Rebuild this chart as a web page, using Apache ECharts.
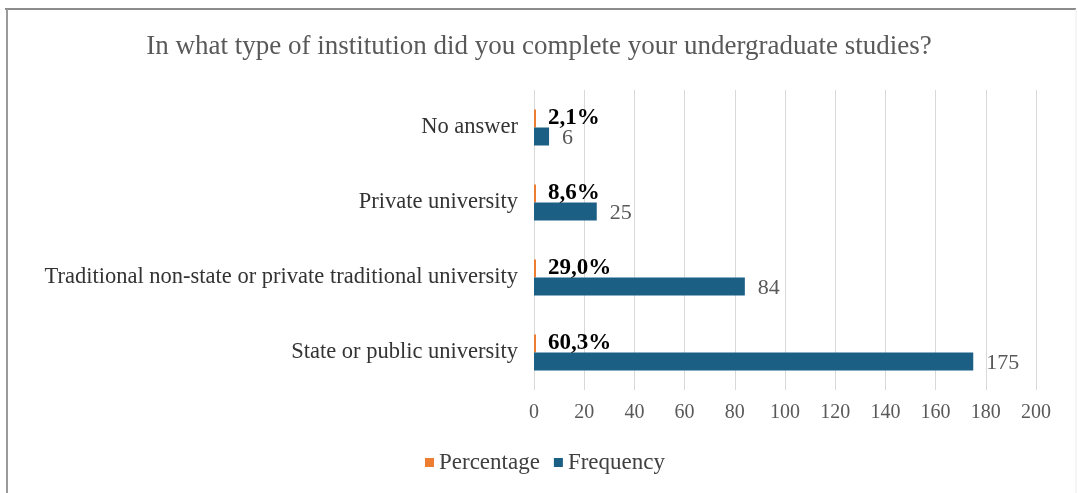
<!DOCTYPE html>
<html>
<head>
<meta charset="utf-8">
<script src="https://cdn.jsdelivr.net/npm/echarts@6/dist/echarts.min.js"></script>
<style>
  html, body { margin: 0; padding: 0; background: #fff; }
  #chart { width: 1078px; height: 493px; }
</style>
</head>
<body>
<div id="chart"></div>
<script>
// Survey answers, listed top to bottom
const categories = [
  'No answer',
  'Private university',
  'Traditional non-state or private traditional university',
  'State or public university'
];
const frequency = [6, 25, 84, 175];
const percentage = [2.1, 8.6, 29.0, 60.3];   // percent of respondents
const xTicks = { min: 0, max: 200, interval: 20 };

const serif = '"Liberation Serif", "DejaVu Serif", serif';
const fmtPct = v => v.toFixed(1).replace('.', ',') + '%';

const chart = echarts.init(document.getElementById('chart'));
chart.setOption({
  animation: false,
  backgroundColor: '#ffffff',
  title: {
    text: 'In what type of institution did you complete your undergraduate studies?',
    left: 'center',
    top: 28,
    textStyle: { fontFamily: serif, fontSize: 27, fontWeight: 'normal', color: '#595959' }
  },
  legend: {
    data: ['Percentage', 'Frequency'],
    bottom: 14,
    left: 420,
    icon: 'rect',
    itemWidth: 9,
    itemHeight: 9,
    itemGap: 14,
    textStyle: { fontFamily: serif, fontSize: 23, color: '#404040' }
  },
  grid: { left: 534, right: 42, top: 90, bottom: 103 },
  xAxis: {
    type: 'value',
    min: xTicks.min,
    max: xTicks.max,
    interval: xTicks.interval,
    axisLine: { show: false },
    axisTick: { show: false },
    splitLine: { show: true, lineStyle: { color: '#d9d9d9', width: 1 } },
    axisLabel: { fontFamily: serif, fontSize: 20, color: '#595959', margin: 13 }
  },
  yAxis: {
    type: 'category',
    data: categories,
    inverse: true,
    axisLine: { show: false },
    axisTick: { show: false },
    axisLabel: { fontFamily: serif, fontSize: 22.5, color: '#333333', margin: 16 }
  },
  series: [
    {
      name: 'Percentage',
      type: 'bar',
      data: percentage.map(v => v / 100),
      barWidth: 18,
      barGap: '0%',
      barMinHeight: 2,
      itemStyle: { color: '#ED7D31' },
      label: {
        show: true,
        position: 'right',
        distance: 12,
        formatter: p => fmtPct(percentage[p.dataIndex]),
        fontFamily: serif,
        fontSize: 23,
        fontWeight: 'bold',
        color: '#000000'
      }
    },
    {
      name: 'Frequency',
      type: 'bar',
      data: frequency,
      barWidth: 18,
      barGap: '0%',
      itemStyle: { color: '#1B5F85' },
      label: {
        show: true,
        position: 'right',
        distance: 13,
        offset: [0, 2],
        fontFamily: serif,
        fontSize: 22,
        color: '#595959'
      }
    }
  ],
  graphic: [
    { type: 'line', shape: { x1: 5, y1: 9, x2: 1076, y2: 9 }, style: { stroke: '#8c8c8c', lineWidth: 2 } },
    { type: 'line', shape: { x1: 7, y1: 9, x2: 7, y2: 493 }, style: { stroke: '#9a9a9a', lineWidth: 2 } },
    { type: 'line', shape: { x1: 1076, y1: 9, x2: 1076, y2: 493 }, style: { stroke: '#ececec', lineWidth: 1 } }
  ]
});
</script>
</body>
</html>
